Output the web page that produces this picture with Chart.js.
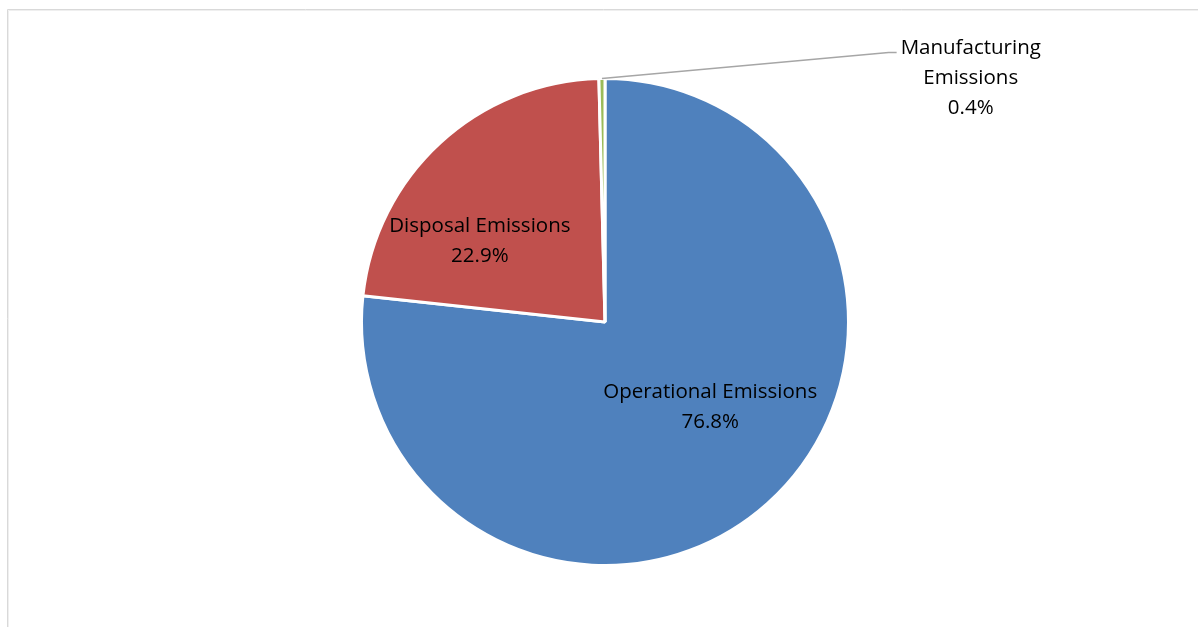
<!DOCTYPE html>
<html>
<head>
<meta charset="utf-8">
<script src="https://cdn.jsdelivr.net/npm/chart.js@4.4.1/dist/chart.umd.min.js"></script>
<style>
  html, body { margin: 0; padding: 0; background: #ffffff; }
  #wrap { width: 1198px; height: 627px; position: relative; }
</style>
</head>
<body>
<div id="wrap"><canvas id="c" width="1198" height="627"></canvas></div>
<script>
// Emission sources and their share of the total (%)
const categories = ['Operational Emissions', 'Disposal Emissions', 'Manufacturing Emissions'];
const shares = [76.8, 22.9, 0.4];
const sliceColors = ['#4F81BD', '#C0504D', '#9BBB59'];

// Label text lines for each slice
const labelLines = [
  ['Operational Emissions', '76.8%'],
  ['Disposal Emissions', '22.9%'],
  ['Manufacturing', 'Emissions', '0.4%']
];
// Label block centres as fractions of the pie radius, measured from the pie centre
const labelOffsets = [
  { dx: 0.432, dy: 0.35, leader: false },
  { dx: -0.514, dy: -0.334, leader: false },
  { dx: 1.502, dy: -1.0, leader: true }
];

const FONT = '20.5px "Open Sans", Lato, sans-serif';
const LINE_H = 30;

// Light chart-area frame
const framePlugin = {
  id: 'frame',
  beforeDraw(chart) {
    const ctx = chart.ctx;
    ctx.save();
    ctx.strokeStyle = '#d9d9d9';
    ctx.lineWidth = 1;
    ctx.beginPath();
    ctx.moveTo(7.5, 640);
    ctx.lineTo(7.5, 9.5);
    ctx.lineTo(1210, 9.5);
    ctx.stroke();
    ctx.strokeStyle = '#efefef';
    ctx.beginPath();
    ctx.moveTo(8.5, 640);
    ctx.lineTo(8.5, 10.5);
    ctx.lineTo(1210, 10.5);
    ctx.stroke();
    ctx.restore();
  }
};

// Slice labels, with a leader line for the small slice
const sliceLabels = {
  id: 'sliceLabels',
  afterDatasetsDraw(chart) {
    const ctx = chart.ctx;
    const meta = chart.getDatasetMeta(0);
    ctx.save();
    ctx.font = FONT;
    ctx.fillStyle = '#000000';
    ctx.textAlign = 'center';
    ctx.textBaseline = 'middle';
    meta.data.forEach((arc, i) => {
      const p = arc.getProps(['x', 'y', 'outerRadius', 'startAngle', 'endAngle'], true);
      const r = p.outerRadius;
      const off = labelOffsets[i];
      const cx = p.x + off.dx * r;
      const cy = p.y + off.dy * r;
      const lines = labelLines[i];
      const top = cy - (lines.length - 1) * LINE_H / 2;
      if (off.leader) {
        const mid = (p.startAngle + p.endAngle) / 2;
        const ax = p.x + Math.cos(mid) * r;
        const ay = p.y + Math.sin(mid) * r;
        const w = ctx.measureText(lines[0]).width;
        const ex = cx - w / 2 - 4;
        const ey = top + 4;
        ctx.strokeStyle = '#a6a6a6';
        ctx.lineWidth = 1.5;
        ctx.beginPath();
        ctx.moveTo(ax, ay);
        ctx.lineTo(ex - 8, ey);
        ctx.lineTo(ex, ey);
        ctx.stroke();
      }
      lines.forEach((t, k) => ctx.fillText(t, cx, top + k * LINE_H));
    });
    ctx.restore();
  }
};

new Chart(document.getElementById('c'), {
  type: 'pie',
  data: {
    labels: categories,
    datasets: [{
      data: shares,
      backgroundColor: sliceColors,
      borderColor: '#ffffff',
      borderWidth: 3,
      hoverOffset: 0
    }]
  },
  options: {
    responsive: false,
    animation: false,
    rotation: 0,
    layout: { padding: { top: 77, bottom: 60, left: 12, right: 0 } },
    plugins: {
      legend: { display: false },
      tooltip: { enabled: false },
      title: { display: false }
    }
  },
  plugins: [framePlugin, sliceLabels]
});
</script>
</body>
</html>
